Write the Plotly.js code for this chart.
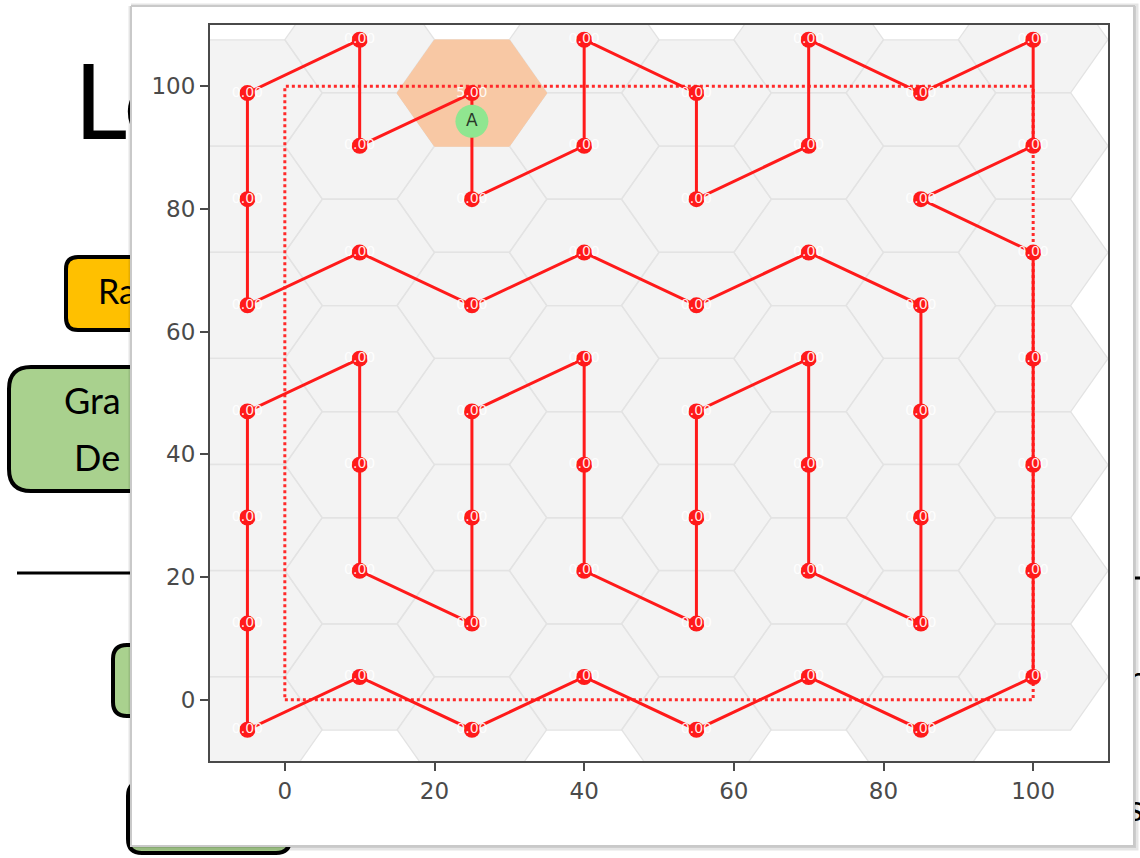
<!DOCTYPE html>
<html>
<head>
<meta charset="utf-8">
<script src="https://cdn.plot.ly/plotly-3.0.1.min.js"></script>
<style>html,body{margin:0;padding:0;background:#fff;}#chart{width:1140px;height:858px;}</style>
</head>
<body>
<div id="chart"></div>
<script>
// ---- data ----
const pathX = [25, 10, 10, -5, -5, -5, 10, 25, 40, 55, 70, 85, 85, 85, 85, 70, 70, 70, 55, 55, 55, 40, 40, 40, 25, 25, 25, 10, 10, 10, -5, -5, -5, -5, 10, 25, 40, 55, 70, 85, 100, 100, 100, 100, 100, 85, 100, 100, 85, 70, 70, 55, 55, 40, 40, 25];
const pathY = [98.9, 90.3, 107.6, 98.9, 81.6, 64.3, 72.9, 64.3, 72.9, 64.3, 72.9, 64.3, 47.0, 29.7, 12.4, 21.0, 38.3, 55.6, 47.0, 29.7, 12.4, 21.0, 38.3, 55.6, 47.0, 29.7, 12.4, 21.0, 38.3, 55.6, 47.0, 29.7, 12.4, -4.9, 3.7, -4.9, 3.7, -4.9, 3.7, -4.9, 3.7, 21.0, 38.3, 55.6, 72.9, 81.6, 90.3, 107.6, 98.9, 107.6, 90.3, 81.6, 98.9, 107.6, 90.3, 81.6];
const nodeLabels = pathX.map((_, i) => i === 0 ? '5.00' : '0.00');
const boundX = [0, 100, 100, 0, 0];
const boundY = [0, 0, 100, 100, 0];
const cellX = [25];
const cellY = [98.9];
const agentX = [25];
const agentY = [94.3];
const agentLabel = ['A'];
const xTicks = [0, 20, 40, 60, 80, 100];
const yTicks = [0, 20, 40, 60, 80, 100];

// ---- geometry helpers ----
const HEX_R = 10;
function hexPoly(cx, cy) {
  const xs = [], ys = [];
  for (let k = 0; k <= 6; k++) {
    const a = Math.PI / 3 * k;
    xs.push(cx + HEX_R * Math.cos(a));
    ys.push(cy + HEX_R * Math.sin(a));
  }
  return [xs, ys];
}
function hexTrace(cxs, cys) {
  const X = [], Y = [];
  cxs.forEach((cx, i) => {
    const [xs, ys] = hexPoly(cx, cys[i]);
    X.push(...xs, null); Y.push(...ys, null);
  });
  return [X, Y];
}
function rr(x0, y0, x1, y1, r) {
  return `M${x0 + r},${y0} L${x1 - r},${y0} Q${x1},${y0} ${x1},${y0 + r} L${x1},${y1 - r} Q${x1},${y1} ${x1 - r},${y1} L${x0 + r},${y1} Q${x0},${y1} ${x0},${y1 - r} L${x0},${y0 + r} Q${x0},${y0} ${x0 + r},${y0} Z`;
}

const [hx, hy] = hexTrace(pathX, pathY);
const [ox, oy] = hexTrace(cellX, cellY);

const slideFont = 'Lato, "Open Sans", sans-serif';
function slideText(t, x, y, size) {
  return {type: 'scatter', mode: 'text', x: [x], y: [y], text: [t], textposition: 'middle right',
    textfont: {family: slideFont, size: size, color: '#000'}, xaxis: 'x', yaxis: 'y', hoverinfo: 'skip', showlegend: false, cliponaxis: false};
}

const traces = [
  slideText('Le', 74, 113, 104),
  slideText('Ra', 98, 295, 34),
  slideText('Gra', 64, 405, 36),
  slideText('De', 74, 462, 36),
  slideText('n', 1128, 683, 36),
  slideText('s', 1128, 812, 36),
  // panel shadow + panel
  {type: 'scatter', mode: 'lines', x: [131, 1136, 1136, 131, 131], y: [6, 6, 848, 848, 6], fill: 'toself',
   fillcolor: 'rgba(0,0,0,0.10)', line: {color: 'rgba(0,0,0,0.10)', width: 5}, xaxis: 'x', yaxis: 'y', hoverinfo: 'skip', showlegend: false},
  {type: 'scatter', mode: 'lines', x: [131, 1134, 1134, 131, 131], y: [6, 6, 846, 846, 6], fill: 'toself',
   fillcolor: '#ffffff', line: {color: '#c9c9c9', width: 2}, xaxis: 'x', yaxis: 'y', hoverinfo: 'skip', showlegend: false},
  // hex grid
  {type: 'scatter', mode: 'lines', x: hx, y: hy, fill: 'toself', fillcolor: '#f3f3f3',
   line: {color: '#e3e3e3', width: 1.3}, xaxis: 'x2', yaxis: 'y2', hoverinfo: 'skip', showlegend: false},
  // highlighted cell
  {type: 'scatter', mode: 'lines', x: ox, y: oy, fill: 'toself', fillcolor: '#f8c8a4',
   line: {color: '#f8c8a4', width: 1}, xaxis: 'x2', yaxis: 'y2', hoverinfo: 'skip', showlegend: false},
  // dotted boundary
  {type: 'scatter', mode: 'lines', x: boundX, y: boundY, line: {color: '#ff2a2a', width: 3, dash: 'dot'},
   xaxis: 'x2', yaxis: 'y2', hoverinfo: 'skip', showlegend: false},
  // path
  {type: 'scatter', mode: 'lines', x: pathX.concat([pathX[0]]), y: pathY.concat([pathY[0]]),
   line: {color: '#ff1a1a', width: 3}, xaxis: 'x2', yaxis: 'y2', hoverinfo: 'skip', showlegend: false},
  // nodes
  {type: 'scatter', mode: 'markers+text', x: pathX, y: pathY, text: nodeLabels, textposition: 'middle center',
   marker: {color: '#ff1a1a', size: 16}, textfont: {family: 'DejaVu Sans', size: 14, color: 'rgba(255,255,255,0.92)'},
   xaxis: 'x2', yaxis: 'y2', hoverinfo: 'skip', showlegend: false},
  // agent
  {type: 'scatter', mode: 'markers+text', x: agentX, y: agentY, text: agentLabel, textposition: 'middle center',
   marker: {color: '#90e690', size: 33}, textfont: {family: 'DejaVu Sans', size: 17, color: '#2a3a2a'},
   xaxis: 'x2', yaxis: 'y2', hoverinfo: 'skip', showlegend: false}
];

const boxLine = {color: '#000', width: 4};
const shapes = [
  {type: 'path', xref: 'x', yref: 'y', layer: 'below', path: rr(66, 257, 330, 330, 12), fillcolor: '#ffc000', line: boxLine},
  {type: 'path', xref: 'x', yref: 'y', layer: 'below', path: rr(9, 367, 330, 491, 22), fillcolor: '#a9d18e', line: boxLine},
  {type: 'path', xref: 'x', yref: 'y', layer: 'below', path: rr(113, 645, 330, 716, 14), fillcolor: '#a9d18e', line: boxLine},
  {type: 'path', xref: 'x', yref: 'y', layer: 'below', path: rr(128, 782, 290, 853, 14), fillcolor: '#a9d18e', line: boxLine},
  {type: 'line', xref: 'x', yref: 'y', layer: 'below', x0: 17, x1: 140, y0: 573, y1: 573, line: {color: '#000', width: 3}},
  {type: 'line', xref: 'x', yref: 'y', layer: 'below', x0: 1120, x1: 1145, y0: 578, y1: 578, line: {color: '#000', width: 3}}
];

const tickFont = {family: 'DejaVu Sans', size: 23, color: '#4a4a4a'};
const layout = {
  width: 1140, height: 858,
  margin: {l: 0, r: 0, t: 0, b: 0},
  paper_bgcolor: '#ffffff',
  plot_bgcolor: 'rgba(0,0,0,0)',
  showlegend: false,
  xaxis: {domain: [0, 1], range: [0, 1140], visible: false, fixedrange: true},
  yaxis: {domain: [0, 1], range: [858, 0], visible: false, fixedrange: true},
  xaxis2: {domain: [210 / 1140, 1108 / 1140], anchor: 'y2', range: [-10, 110], tickvals: xTicks,
    ticks: 'outside', ticklen: 8, tickwidth: 2, tickcolor: '#4a4a4a', showline: true, mirror: true,
    linecolor: '#4a4a4a', linewidth: 2, showgrid: false, zeroline: false, tickfont: tickFont, fixedrange: true},
  yaxis2: {domain: [1 - 761 / 858, 1 - 25 / 858], anchor: 'x2', range: [-10, 110], tickvals: yTicks,
    ticks: 'outside', ticklen: 8, tickwidth: 2, tickcolor: '#4a4a4a', showline: true, mirror: true,
    linecolor: '#4a4a4a', linewidth: 2, showgrid: false, zeroline: false, tickfont: tickFont, fixedrange: true},
  shapes: shapes
};

Plotly.newPlot('chart', traces, layout, {staticPlot: true, displayModeBar: false});
</script>
</body>
</html>
